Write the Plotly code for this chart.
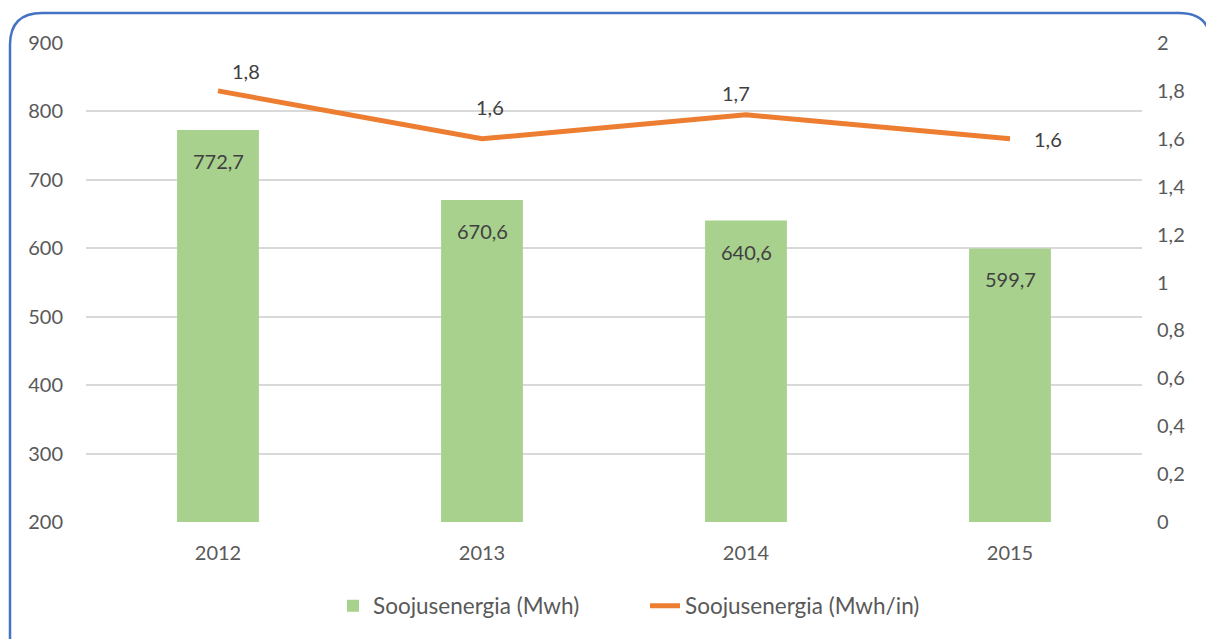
import plotly.graph_objects as go

years = ["2012", "2013", "2014", "2015"]
energy_mwh = [772.7, 670.6, 640.6, 599.7]
energy_per_in = [1.8, 1.6, 1.7, 1.6]
left_ticks = [200, 300, 400, 500, 600, 700, 800, 900]
right_ticks = [0, 0.2, 0.4, 0.6, 0.8, 1, 1.2, 1.4, 1.6, 1.8, 2]

# label offsets (px) for line labels, mimicking the reference placement
line_label_dx = [28, 8, -10, 38]
line_label_dy = [20, 32, 22, 0]

FONT = "Lato, 'Open Sans', sans-serif"
TXT = "#595959"
LBL = "#404040"
FS = 20

fig = go.Figure()
fig.add_trace(go.Bar(
    x=years, y=energy_mwh, name="Soojusenergia (Mwh)",
    marker=dict(color="#A9D18E", line=dict(width=0)),
))
fig.add_trace(go.Scatter(
    x=years, y=energy_per_in, name="Soojusenergia (Mwh/in)", yaxis="y2",
    mode="lines", line=dict(color="#ED7D31", width=5),
))

for i, v in enumerate(energy_mwh):
    fig.add_annotation(x=i, y=v, xref="x", yref="y",
                       text=f"{v:.1f}".replace(".", ","), showarrow=False,
                       yanchor="middle", yshift=-31,
                       font=dict(size=FS, color=LBL, family=FONT))

for i, (yv, dx, dy) in enumerate(zip(energy_per_in, line_label_dx, line_label_dy)):
    fig.add_annotation(x=i, y=yv, xref="x", yref="y2",
                       text=f"{yv:.1f}".replace(".", ","), showarrow=False,
                       xshift=dx, yshift=dy,
                       font=dict(size=FS, color=LBL, family=FONT))

# rounded border (paper coords relative to plot area 1056x479 px)
W, H = 1056.0, 479.0
x0, x1 = (10 - 86) / W, (1211 - 86) / W
y1, y0 = (522 - 13) / H, (522 - 700) / H
rx, ry = 32 / W, 32 / H
path = (f"M {x0+rx},{y1} L {x1-rx},{y1} Q {x1},{y1} {x1},{y1-ry} "
        f"L {x1},{y0} M {x0},{y0} L {x0},{y1-ry} Q {x0},{y1} {x0+rx},{y1}")
fig.add_shape(type="path", path=path, xref="paper", yref="paper",
              line=dict(color="#4472C4", width=2.5), layer="above")

fig.update_layout(
    width=1206, height=631,
    margin=dict(l=78, r=72, t=35, b=117),
    paper_bgcolor="white", plot_bgcolor="white",
    separators=", ",
    font=dict(family=FONT, size=FS, color=TXT),
    bargap=0.69,
    showlegend=True,
    legend=dict(orientation="h", x=(333 - 86) / W, xanchor="left",
                y=(522 - 606) / H, yanchor="middle",
                font=dict(size=22.5, color=TXT, family=FONT),
                entrywidth=267, entrywidthmode="pixels",
                traceorder="normal"),
    xaxis=dict(type="category", range=[-0.5, 3.5], autorange=False,
               showgrid=False, showline=False, ticks="",
               tickfont=dict(size=FS, color=TXT), ticklabelstandoff=17),
    yaxis=dict(range=[200, 900], tickvals=left_ticks, showgrid=True,
               gridcolor="#D9D9D9", gridwidth=1.5, zeroline=False, showline=False,
               tickfont=dict(size=FS, color=TXT), ticklabelstandoff=22),
    yaxis2=dict(range=[0, 2], tickvals=right_ticks, overlaying="y", side="right",
                showgrid=False, zeroline=False, showline=False,
                tickfont=dict(size=FS, color=TXT), ticklabelstandoff=14),
)

fig.write_html("out.html")
